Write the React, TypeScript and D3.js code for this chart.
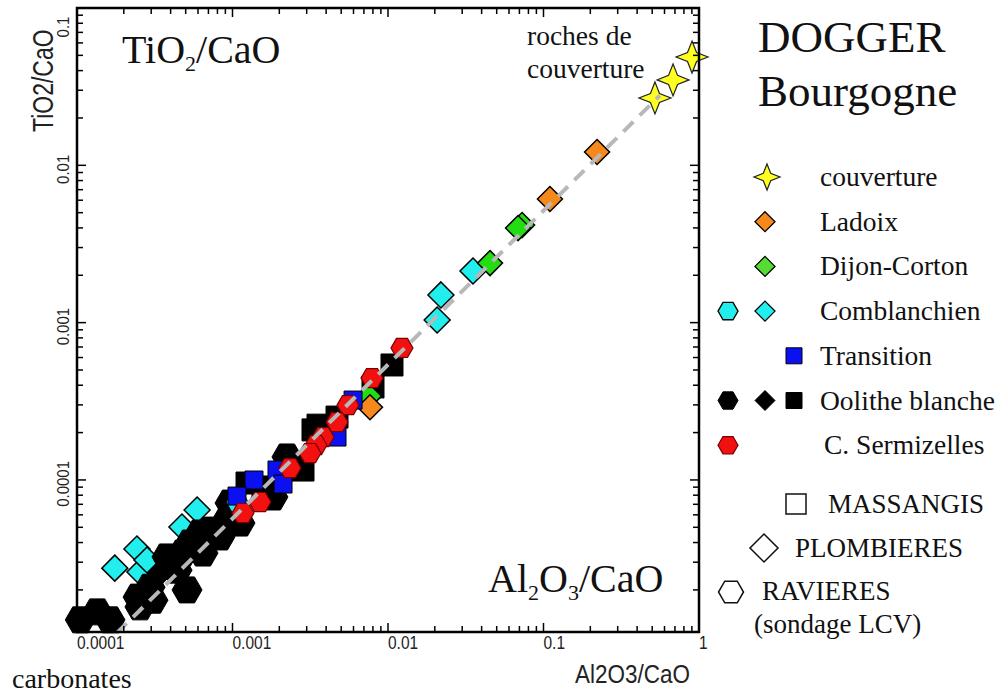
import React from "react";
import * as d3 from "d3";

// ---------- data ----------
const couvertureX = [0.521, 0.681, 0.902];
const couvertureY = [0.0268, 0.0349, 0.0488];

const ladoixX = [0.221, 0.11, 0.00766];
const ladoixY = [0.01215, 0.00611, 0.00029];

const dijonX = [0.0728, 0.0686, 0.0453, 0.00755];
const dijonY = [0.00417, 0.00399, 0.00239, 0.000341];

const comblDiamX = [0.0352, 0.0219, 0.0207, 0.000175, 0.000243, 0.000254, 0.000282, 0.000592, 0.000473];
const comblDiamY = [0.00213, 0.0015, 0.00104, 2.75e-5, 3.64e-5, 2.6e-5, 3.1e-5, 6.44e-5, 5.02e-5];
const comblHexX = [0.00107];
const comblHexY = [7.24e-5];

const transitionX = [0.00596, 0.0047, 0.001933, 0.002113, 0.001375, 0.001069];
const transitionY = [0.000322, 0.0001874, 0.0001156, 9.42e-5, 9.99e-5, 7.9e-5];

const oolHexX = [1.05e-4, 1.35e-4, 1.63e-4, 2.54e-4, 2.47e-4, 3.08e-4, 2.95e-4, 3.79e-4, 4.4e-4, 5.1e-4, 4.8e-4, 5.33e-4, 6.18e-4, 6.46e-4, 7.17e-4, 8.31e-4, 9.22e-4, 1.007e-3, 1.117e-3, 2.24e-3, 1.82e-3, 1.667e-3, 9.64e-4];
const oolHexY = [1.29e-5, 1.45e-5, 1.29e-5, 1.56e-5, 1.8e-5, 1.72e-5, 2.08e-5, 3.24e-5, 2.67e-5, 2.0e-5, 3.43e-5, 3.97e-5, 4.6e-5, 3.43e-5, 4.8e-5, 4.34e-5, 5.56e-5, 6.16e-5, 5.32e-5, 1.4e-4, 7.79e-5, 8.63e-5, 7.13e-5];
const oolDiamX = [3.42e-4, 4.4e-4];
const oolDiamY = [2.56e-5, 2.67e-5];
const oolSqX = [0.01061, 0.00124, 0.001571, 0.003547, 0.003294, 0.0047, 0.002841, 0.00801];
const oolSqY = [0.000538, 9.56e-5, 9.02e-5, 0.000223, 0.000208, 0.000251, 0.0001156, 0.00039];

const sermX = [0.0123, 0.00789, 0.00553, 0.0047, 0.00382, 0.003443, 0.003151, 0.002343, 0.001502, 0.001168];
const sermY = [0.00069, 0.000444, 0.000299, 0.000233, 0.0001874, 0.0001667, 0.0001483, 0.000119, 7.24e-5, 6.16e-5];

const trendX = [0.00018, 0.56];
const trendY = [1.06e-5, 0.0278];

const xTickVals = [1e-4, 1e-3, 1e-2, 1e-1, 1];
const xTickLabels = ["0.0001", "0.001", "0.01", "0.1", "1"];
const yTickVals = [1e-4, 1e-3, 1e-2, 1e-1];
const yTickLabels = ["0.0001", "0.001", "0.01", "0.1"];

const legendRows = ["couverture", "Ladoix", "Dijon-Corton", "Comblanchien", "Transition", "Oolithe blanche", "C. Sermizelles"];

// ---------- layout ----------
const W = 1006;
const H = 695;
const L = 77, R = 699, T = 8, B = 632;
const x = d3.scaleLog().domain([1e-4, 1]).range([L, R]);
const y = d3.scaleLog().domain([1.08e-5, 0.1]).range([B, T]);

const serif = "'Liberation Serif', 'Times New Roman', serif";
const sans = "'Liberation Sans', Arial, sans-serif";

const lineGen = d3.line<[number, number]>();
function hexPath(r: number) {
  const pts: [number, number][] = d3.range(6).map((i) => [r * Math.cos((i * Math.PI) / 3), r * Math.sin((i * Math.PI) / 3)] as [number, number]);
  return lineGen(pts) + "Z";
}
function diamondPath(s: number) {
  return lineGen([[0, -s], [s, 0], [0, s], [-s, 0]]) + "Z";
}
function squarePath(s: number) {
  const h = s / 2;
  return lineGen([[-h, -h], [h, -h], [h, h], [-h, h]]) + "Z";
}
function starPath(ro: number) {
  const ri = ro * 0.4;
  const pts: [number, number][] = d3.range(8).map((i) => {
    const a = -Math.PI / 2 + (i * Math.PI) / 4;
    const rr = i % 2 === 0 ? ro : ri;
    return [rr * Math.cos(a), rr * Math.sin(a)] as [number, number];
  });
  return lineGen(pts) + "Z";
}

type Series = { xs: number[]; ys: number[]; d: string; fill: string; stroke: string; sw: number };

const series: Series[] = [
  { xs: comblDiamX, ys: comblDiamY, d: diamondPath(13), fill: "#22eeee", stroke: "#000", sw: 1.5 },
  { xs: oolHexX, ys: oolHexY, d: hexPath(15), fill: "#000", stroke: "#000", sw: 1 },
  { xs: oolDiamX, ys: oolDiamY, d: diamondPath(13), fill: "#000", stroke: "#000", sw: 1 },
  { xs: oolSqX, ys: oolSqY, d: squarePath(22), fill: "#000", stroke: "#000", sw: 1 },
  { xs: comblHexX, ys: comblHexY, d: hexPath(11), fill: "#22eeee", stroke: "#000", sw: 1 },
  { xs: dijonX, ys: dijonY, d: diamondPath(12.5), fill: "#22dd11", stroke: "#000", sw: 1.5 },
  { xs: ladoixX, ys: ladoixY, d: diamondPath(12.5), fill: "#f7891c", stroke: "#000", sw: 1.5 },
  { xs: transitionX, ys: transitionY, d: squarePath(18), fill: "#0a10f0", stroke: "#000", sw: 1 },
  { xs: sermX, ys: sermY, d: hexPath(11), fill: "#f21010", stroke: "#700", sw: 1.2 },
  { xs: couvertureX, ys: couvertureY, d: starPath(16), fill: "#ffff22", stroke: "#222", sw: 1.2 },
];

export default function App() {
  const ticksX = x.ticks();
  const ticksY = y.ticks();
  const isMajor = (v: number) => Math.abs(Math.log10(v) - Math.round(Math.log10(v))) < 1e-6;
  const trend = lineGen(trendX.map((v, i) => [x(v), y(trendY[i])] as [number, number]));

  const rowY = (i: number) => 177 + i * 44.7;

  return (
    <svg width={W} height={H} style={{ position: "absolute", left: 0, top: 0, background: "#fff" }}>
      <defs>
        <clipPath id="plotclip">
          <rect x={L - 12} y={T} width={R - L + 24} height={B - T + 4} />
        </clipPath>
      </defs>

      {/* markers */}
      <g clipPath="url(#plotclip)">
        {series.map((s, si) => (
          <g key={si}>
            {s.xs.map((v, i) => (
              <path key={i} d={s.d} transform={`translate(${x(v)},${y(s.ys[i])})`} fill={s.fill} stroke={s.stroke} strokeWidth={s.sw} />
            ))}
          </g>
        ))}
        <path d={trend || ""} fill="none" stroke="#b8b8b8" strokeWidth={4} strokeDasharray="14 9" />
      </g>

      {/* frame and ticks */}
      <rect x={L} y={T} width={R - L} height={B - T} fill="none" stroke="#000" strokeWidth={2.5} />
      {ticksX.map((v, i) => {
        const len = isMajor(v) ? 9 : 6;
        const px = x(v);
        return (
          <g key={"tx" + i}>
            <line x1={px} x2={px} y1={B} y2={B - len} stroke="#000" strokeWidth={1.5} />
            <line x1={px} x2={px} y1={T} y2={T + len} stroke="#000" strokeWidth={1.5} />
          </g>
        );
      })}
      {ticksY.map((v, i) => {
        const len = isMajor(v) ? 9 : 6;
        const py = y(v);
        return (
          <g key={"ty" + i}>
            <line x1={L} x2={L + len} y1={py} y2={py} stroke="#000" strokeWidth={1.5} />
            <line x1={R} x2={R - len} y1={py} y2={py} stroke="#000" strokeWidth={1.5} />
          </g>
        );
      })}

      {/* tick labels */}
      {xTickVals.map((v, i) => (
        <text key={"xl" + i} transform={`translate(${x(v)},649) scale(1,1.2)`} fontFamily={sans} fontSize={15.5} fill="#222">
          {xTickLabels[i]}
        </text>
      ))}
      {yTickVals.map((v, i) => (
        <text key={"yl" + i} transform={`translate(69,${Math.max(y(v) + 4, 27)}) rotate(-90) scale(1,1.1)`} textAnchor="middle" fontFamily={sans} fontSize={15} fill="#222">
          {yTickLabels[i]}
        </text>
      ))}

      {/* axis titles */}
      <text transform="translate(53,132) rotate(-90) scale(1,1.25)" fontFamily={sans} fontSize={23} fill="#222">
        TiO2/CaO
      </text>
      <text transform="translate(575,683) scale(1,1.12)" fontFamily={sans} fontSize={22.5} fill="#222">
        Al2O3/CaO
      </text>

      {/* in-plot annotations */}
      <text x={122} y={63} fontFamily={serif} fontSize={40} fill="#111">
        TiO<tspan fontSize={22} dy={8}>2</tspan>
        <tspan dy={-8}>/CaO</tspan>
      </text>
      <text x={488} y={592} fontFamily={serif} fontSize={40} fill="#111">
        Al<tspan fontSize={22} dy={8}>2</tspan>
        <tspan dy={-8}>O</tspan>
        <tspan fontSize={22} dy={8}>3</tspan>
        <tspan dy={-8}>/CaO</tspan>
      </text>
      <text x={527} y={45} fontFamily={serif} fontSize={27.5} fill="#111">roches de</text>
      <text x={527} y={78} fontFamily={serif} fontSize={27.5} fill="#111">couverture</text>
      <text x={12} y={688} fontFamily={serif} fontSize={28} fill="#111">carbonates</text>

      {/* title */}
      <text x={758} y={52} fontFamily={serif} fontSize={45} fill="#111">DOGGER</text>
      <text x={758} y={106} fontFamily={serif} fontSize={45} fill="#111">Bourgogne</text>

      {/* legend */}
      <path d={starPath(13)} transform={`translate(767,${rowY(0)})`} fill="#ffff22" stroke="#222" strokeWidth={1.2} />
      <path d={diamondPath(10)} transform={`translate(765,${rowY(1)})`} fill="#f7891c" stroke="#000" strokeWidth={1.3} />
      <path d={diamondPath(10)} transform={`translate(765,${rowY(2)})`} fill="#55dd33" stroke="#000" strokeWidth={1.3} />
      <path d={hexPath(10)} transform={`translate(728,${rowY(3)})`} fill="#22eeee" stroke="#000" strokeWidth={1.3} />
      <path d={diamondPath(10)} transform={`translate(765,${rowY(3)})`} fill="#22eeee" stroke="#000" strokeWidth={1.3} />
      <path d={squarePath(16)} transform={`translate(794,${rowY(4)})`} fill="#0a10f0" stroke="#000" strokeWidth={1} />
      <path d={hexPath(10)} transform={`translate(728,${rowY(5)})`} fill="#000" stroke="#000" strokeWidth={1} />
      <path d={diamondPath(10)} transform={`translate(765,${rowY(5)})`} fill="#000" stroke="#000" strokeWidth={1} />
      <path d={squarePath(16)} transform={`translate(794,${rowY(5)})`} fill="#000" stroke="#000" strokeWidth={1} />
      <path d={hexPath(10)} transform={`translate(728,${rowY(6)})`} fill="#f21010" stroke="#700" strokeWidth={1.2} />
      {legendRows.map((t, i) => (
        <text key={"lg" + i} x={i === 6 ? 824 : 820} y={rowY(i) + 9} fontFamily={serif} fontSize={27.5} fill="#111">
          {t}
        </text>
      ))}

      <path d={squarePath(20)} transform="translate(796,504)" fill="none" stroke="#111" strokeWidth={1.5} />
      <text x={828} y={513} fontFamily={serif} fontSize={27} fill="#111">MASSANGIS</text>
      <path d={diamondPath(14)} transform="translate(764,548)" fill="none" stroke="#111" strokeWidth={1.5} />
      <text x={795} y={557} fontFamily={serif} fontSize={27} fill="#111">PLOMBIERES</text>
      <path d={hexPath(12.5)} transform="translate(731,592)" fill="none" stroke="#111" strokeWidth={1.5} />
      <text x={762} y={600} fontFamily={serif} fontSize={27} fill="#111">RAVIERES</text>
      <text x={754} y={633} fontFamily={serif} fontSize={27} fill="#111">(sondage LCV)</text>
    </svg>
  );
}
